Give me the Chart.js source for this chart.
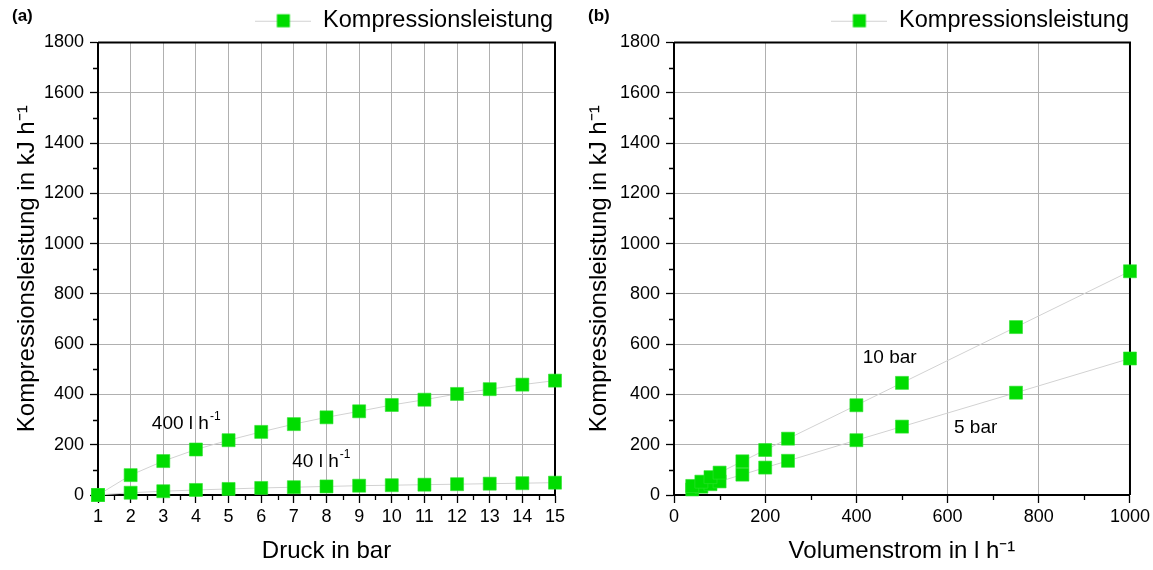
<!DOCTYPE html>
<html>
<head>
<meta charset="utf-8">
<script src="https://cdn.jsdelivr.net/npm/chart.js@4.4.1/dist/chart.umd.min.js"></script>
<style>
    html, body { margin: 0; padding: 0; background: #fff; }
    .wrap { display: flex; width: 1153px; height: 570px; }
</style>
</head>
<body>
<div class="wrap">
    <canvas id="chartA" width="576" height="570"></canvas>
    <canvas id="chartB" width="577" height="570"></canvas>
</div>
<script>
// (a) Kompressionsleistung über Druck
const druck = [1, 2, 3, 4, 5, 6, 7, 8, 9, 10, 11, 12, 13, 14, 15];
const leistung400 = [0, 79, 135, 181, 218, 251, 282, 309, 333, 358, 379, 402, 421, 439, 455];
const leistung40 = [0, 9, 15, 20, 24, 28, 31, 34, 37, 39, 41, 43, 45, 47, 49];

// (b) Kompressionsleistung über Volumenstrom
const volumenstrom = [40, 60, 80, 100, 150, 200, 250, 400, 500, 750, 1000];
const leistung10bar = [36, 53, 71, 89, 134, 179, 224, 357, 446, 668, 890];
const leistung5bar = [22, 33, 43, 54, 81, 109, 136, 218, 272, 407, 543];

// tick labels
const druckTicks = [1, 2, 3, 4, 5, 6, 7, 8, 9, 10, 11, 12, 13, 14, 15];
const volumenTicks = [0, 200, 400, 600, 800, 1000];
const leistungTicks = [0, 200, 400, 600, 800, 1000, 1200, 1400, 1600, 1800];

// annotations in data coordinates
const notesA = [
    { text: '400 l h', sup: '-1', x: 2.65, y: 282 },
    { text: '40 l h', sup: '-1', x: 6.95, y: 131 }
];
const notesB = [
    { text: '10 bar', sup: '', x: 414, y: 544 },
    { text: '5 bar', sup: '', x: 614, y: 266 }
];

const seriesName = 'Kompressionsleistung';
const FONT = '"Liberation Sans", Arial, sans-serif';
const GREEN = '#00dc00';
const LINE = '#d2d2d2';

Chart.defaults.color = '#000';
Chart.defaults.font.family = FONT;

// legend symbol: line with square
const legendIcon = document.createElement('canvas');
legendIcon.width = 56;
legendIcon.height = 16;
(() => {
    const c = legendIcon.getContext('2d');
    c.strokeStyle = LINE;
    c.lineWidth = 1;
    c.beginPath();
    c.moveTo(0, 8.5);
    c.lineTo(56, 8.5);
    c.stroke();
    c.fillStyle = GREEN;
    c.fillRect(21.5, 1.5, 13, 13);
})();

function midpoints(arr) {
    const out = [];
    for (let i = 0; i < arr.length - 1; i++) out.push((arr[i] + arr[i + 1]) / 2);
    return out;
}

const framePlugin = {
    id: 'frame',
    beforeDatasetsDraw(chart, args, opts) {
        const { ctx, chartArea: a, scales } = chart;
        ctx.save();
        ctx.strokeStyle = '#000';
        // minor ticks
        ctx.lineWidth = 1.3;
        ctx.beginPath();
        midpoints(opts.xTicks).forEach(v => {
            const px = Math.round(scales.x.getPixelForValue(v)) + 0.5;
            ctx.moveTo(px, a.bottom);
            ctx.lineTo(px, a.bottom + 5);
        });
        midpoints(leistungTicks).forEach(v => {
            const py = Math.round(scales.y.getPixelForValue(v)) + 0.5;
            ctx.moveTo(a.left, py);
            ctx.lineTo(a.left - 5, py);
        });
        ctx.stroke();
        // box
        ctx.lineWidth = 2;
        ctx.beginPath();
        ctx.moveTo(a.left, a.top);
        ctx.lineTo(a.right, a.top);
        ctx.lineTo(a.right, a.bottom);
        ctx.stroke();
        ctx.restore();
    },
    afterDraw(chart, args, opts) {
        const { ctx, scales } = chart;
        ctx.save();
        ctx.fillStyle = '#000';
        ctx.textBaseline = 'middle';
        opts.notes.forEach(n => {
            const px = scales.x.getPixelForValue(n.x);
            const py = scales.y.getPixelForValue(n.y);
            ctx.font = '19px ' + FONT;
            ctx.fillText(n.text, px, py);
            if (n.sup) {
                const w = ctx.measureText(n.text).width;
                ctx.font = '12px ' + FONT;
                ctx.fillText(n.sup, px + w + 1, py - 7);
            }
        });
        ctx.font = 'bold 17px ' + FONT;
        ctx.fillText(opts.panel, 12, 16);
        ctx.restore();
    }
};

function makeChart(id, xs, series, xTicks, xMin, xMax, xTitle, notes, panel, padRight, yTitlePad) {
    const ctx = document.getElementById(id)?.getContext('2d');
    if (!ctx) return;
    new Chart(ctx, {
        type: 'scatter',
        data: {
            datasets: series.map(ys => ({
                label: seriesName,
                data: xs.map((x, i) => ({ x: x, y: ys[i] })),
                showLine: true,
                borderColor: LINE,
                borderWidth: 1,
                pointStyle: 'rect',
                pointRadius: 9.2,
                pointBackgroundColor: GREEN,
                pointBorderColor: '#2fe02f',
                pointBorderWidth: 0.6,
                clip: false
            }))
        },
        options: {
            responsive: false,
            animation: false,
            layout: { padding: { top: 7, right: padRight, left: 0, bottom: 0 } },
            plugins: {
                legend: {
                    position: 'top',
                    align: 'end',
                    labels: {
                        usePointStyle: true,
                        pointStyleWidth: 56,
                        boxHeight: 16,
                        padding: 2,
                        font: { size: 23.5, family: FONT },
                        generateLabels(chart) {
                            const items = Chart.defaults.plugins.legend.labels.generateLabels(chart);
                            return items.slice(0, 1).map(it => ({ ...it, pointStyle: legendIcon, text: seriesName }));
                        }
                    }
                },
                tooltip: { enabled: false },
                frame: { xTicks: xTicks, notes: notes, panel: panel }
            },
            scales: {
                x: {
                    type: 'linear',
                    min: xMin,
                    max: xMax,
                    afterBuildTicks: s => { s.ticks = xTicks.map(v => ({ value: v })); },
                    afterFit: s => { s.height = 75; },
                    grid: { color: '#b0b0b0', tickColor: '#000', tickLength: 8, tickWidth: 1.3 },
                    border: { color: '#000', width: 2 },
                    ticks: { font: { size: 18 }, padding: 3, maxRotation: 0, autoSkip: false, callback: v => String(v) },
                    title: { display: true, text: xTitle, font: { size: 24 }, padding: { top: 4 } }
                },
                y: {
                    type: 'linear',
                    min: 0,
                    max: 1800,
                    afterBuildTicks: s => { s.ticks = leistungTicks.map(v => ({ value: v })); },
                    afterFit: s => { s.width = 98; },
                    grid: { color: '#b0b0b0', tickColor: '#000', tickLength: 8, tickWidth: 1.3 },
                    border: { color: '#000', width: 2 },
                    ticks: { font: { size: 18 }, padding: 6, autoSkip: false, callback: v => String(v) },
                    title: { display: true, text: 'Kompressionsleistung in kJ h\u207B\u00B9', font: { size: 24 }, padding: { top: yTitlePad, bottom: 0 } }
                }
            }
        },
        plugins: [framePlugin]
    });
}

document.addEventListener('DOMContentLoaded', () => {
    makeChart('chartA', druck, [leistung400, leistung40], druckTicks, 1, 15, 'Druck in bar', notesA, '(a)', 21, 13);
    makeChart('chartB', volumenstrom, [leistung10bar, leistung5bar], volumenTicks, 0, 1000, 'Volumenstrom in l h\u207B\u00B9', notesB, '(b)', 22, 9);
});
</script>
</body>
</html>
